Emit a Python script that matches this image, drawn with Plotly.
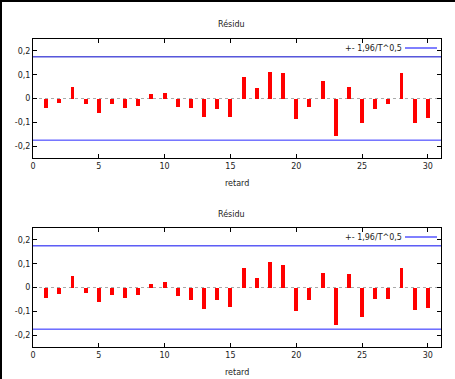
import plotly.graph_objects as go

lags = list(range(1, 31))
resid_top = [-0.041, -0.020, 0.050, -0.025, -0.059, -0.024, -0.041, -0.030, 0.017, 0.025,
             -0.034, -0.041, -0.076, -0.045, -0.076, 0.089, 0.045, 0.112, 0.106, -0.088,
             -0.034, 0.072, -0.156, 0.050, -0.105, -0.044, -0.024, 0.107, -0.102, -0.083]
resid_bot = [-0.043, -0.027, 0.048, -0.022, -0.060, -0.031, -0.043, -0.032, 0.014, 0.022,
             -0.036, -0.052, -0.090, -0.052, -0.082, 0.081, 0.042, 0.108, 0.095, -0.098,
             -0.052, 0.060, -0.157, 0.056, -0.124, -0.048, -0.048, 0.081, -0.094, -0.085]
bound = 0.175
x_range = [0, 31]
y_range = [-0.25, 0.25]
x_ticks = [0, 5, 10, 15, 20, 25, 30]
y_ticks = [-0.2, -0.1, 0, 0.1, 0.2]
y_ticktext = ["-0,2", "-0,1", "0", "0,1", "0,2"]
title_text = "Résidu"
xlabel_text = "retard"
legend_text = "+- 1,96/T^0,5"

W, H = 455, 379
ml, mr = 33, 14
panels = [
    dict(vals=resid_top, top=39, bot=158, title_y=24, xlab_y=183, upc="#0000c8", loc="#2a2aff"),
    dict(vals=resid_bot, top=228, bot=347, title_y=214, xlab_y=372, upc="#0a0af0", loc="#2020ff"),
]

fig = go.Figure()
font = dict(family="DejaVu Sans", size=8, color="#222222")
shapes = []
annotations = []
pw = W - ml - mr

for i, p in enumerate(panels):
    k = "" if i == 0 else "2"
    xa, ya = "x" + k, "y" + k
    fig.add_trace(go.Bar(x=lags, y=p["vals"], width=0.3, marker_color="#ff0000",
                         marker_line_width=0, xaxis=xa, yaxis=ya, showlegend=False))
    fig.add_trace(go.Scatter(x=x_range, y=[bound, bound], mode="lines",
                             line=dict(color=p["upc"], width=1), xaxis=xa, yaxis=ya, showlegend=False))
    fig.add_trace(go.Scatter(x=x_range, y=[-bound, -bound], mode="lines",
                             line=dict(color=p["loc"], width=1), xaxis=xa, yaxis=ya, showlegend=False))
    dom = [1 - p["bot"] / H, 1 - p["top"] / H]
    axx = dict(range=x_range, tickvals=x_ticks, ticks="inside", ticklen=4, mirror="ticks",
               showline=True, linecolor="#000000", linewidth=1, showgrid=False, zeroline=False,
               tickfont=font, tickcolor="#000000", anchor=ya, domain=[0, 1])
    axy = dict(range=y_range, tickvals=y_ticks, ticktext=y_ticktext, ticks="inside", ticklen=4,
               mirror="ticks", showline=True, linecolor="#000000", linewidth=1, showgrid=False,
               zeroline=False, tickfont=font, tickcolor="#000000", anchor=xa, domain=dom)
    fig.update_layout(**{"xaxis" + k: axx, "yaxis" + k: axy})
    # dotted zero axis
    shapes.append(dict(type="line", xref=xa + " domain", yref=ya, x0=0, x1=1, y0=0, y1=0,
                       line=dict(color="#aaaaaa", width=1, dash="dot"), layer="below"))
    # legend sample line
    ly = 1 - (p["top"] + 9) / H
    shapes.append(dict(type="line", xref="paper", yref="paper",
                       x0=(405 - ml) / pw, x1=(437 - ml) / pw, y0=ly, y1=ly,
                       line=dict(color="#0000ff", width=1)))
    annotations.append(dict(text=legend_text, xref="paper", yref="paper",
                            x=(404 - ml) / pw, y=ly, xanchor="right", yanchor="middle",
                            showarrow=False, font=font))
    annotations.append(dict(text=title_text, xref="paper", yref="paper",
                            x=(231 - ml) / pw, y=1 - p["title_y"] / H, xanchor="center",
                            yanchor="middle", showarrow=False, font=font))
    annotations.append(dict(text=xlabel_text, xref="paper", yref="paper",
                            x=(237 - ml) / pw, y=1 - p["xlab_y"] / H, xanchor="center",
                            yanchor="middle", showarrow=False, font=font))

fig.update_layout(width=W, height=H, margin=dict(l=ml, r=mr, t=0, b=0),
                  paper_bgcolor="rgba(0,0,0,0)", plot_bgcolor="#ffffff",
                  shapes=shapes, annotations=annotations, bargap=0, font=font)
fig.write_html("out.html", config={"displayModeBar": False},
               post_script=("document.body.style.margin='0';document.body.style.padding='0';"
                            "document.body.style.overflow='hidden';"
                            "document.body.style.background='#ffffff';"
                            "document.body.style.boxShadow='inset 2px 2px 0 #000000';"
                            "document.body.style.minHeight='379px';"))
